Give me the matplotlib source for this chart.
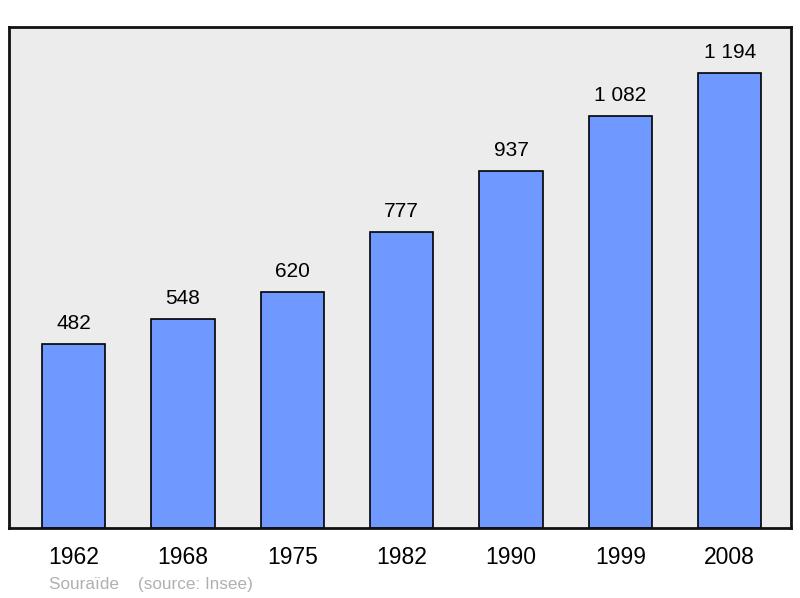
import matplotlib
matplotlib.use("Agg")
import matplotlib.pyplot as plt

years = ["1962", "1968", "1975", "1982", "1990", "1999", "2008"]
population = [482, 548, 620, 777, 937, 1082, 1194]
labels = ["482", "548", "620", "777", "937", "1 082", "1 194"]

plt.rcParams['font.family'] = ['Liberation Sans', 'DejaVu Sans']

fig = plt.figure(figsize=(8, 5.98), dpi=100)
ax = fig.add_axes([9/800, 1 - 528/598, 782/800, 501/598])
ax.set_facecolor("#ececec")

x = list(range(len(years)))
ax.bar(x, population, width=0.58, color="#7099ff", edgecolor="black", linewidth=1.2, zorder=2)

for xi, v, lab in zip(x, population, labels):
    ax.annotate(lab, (xi, v), xytext=(0, 8), textcoords="offset points",
                ha="center", va="bottom", fontsize=15)

ax.set_xlim(-0.59, 6.56)
ax.set_ylim(0, 1315)
ax.set_xticks(x)
ax.set_xticklabels(years, fontsize=16.5)
ax.tick_params(axis="x", length=0, pad=13)
ax.set_yticks([])
for s in ax.spines.values():
    s.set_linewidth(2)
    s.set_color("#111111")

fig.text(49/800, 1 - 585/598, "Souraïde    (source: Insee)", fontsize=12.3,
         color="#b0b0b0", va="center")

fig.savefig("out.png", dpi=100)
